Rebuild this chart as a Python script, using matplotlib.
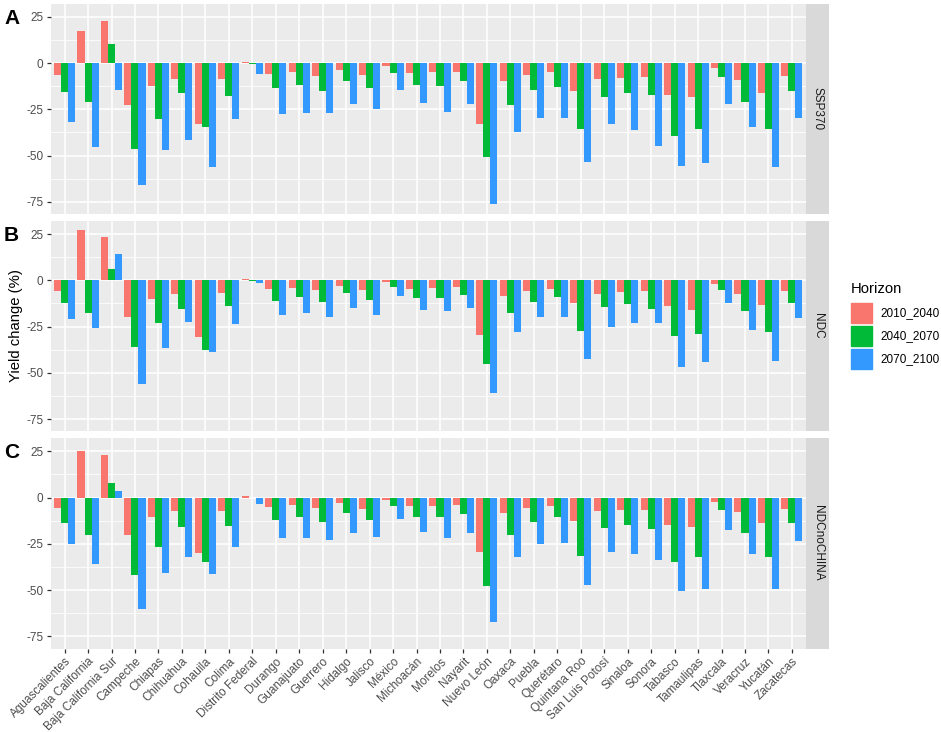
import numpy as np
import matplotlib
matplotlib.use('Agg')
import matplotlib.pyplot as plt
from matplotlib.patches import Rectangle

plt.rcParams['font.family'] = ['Liberation Sans', 'DejaVu Sans']

states = ['Aguascalientes', 'Baja California', 'Baja California Sur', 'Campeche',
          'Chiapas', 'Chihuahua', 'Cohauila', 'Colima', 'Distrito Federal',
          'Durango', 'Guanajuato', 'Guerrero', 'Hidalgo', 'Jalisco', 'México',
          'Michoacán', 'Morelos', 'Nayarit', 'Nuevo León', 'Oaxaca', 'Puebla',
          'Querétaro', 'Quintana Roo', 'San Luis Potosí', 'Sinaloa', 'Sonora',
          'Tabasco', 'Tamaulipas', 'Tlaxcala', 'Veracruz', 'Yucatán', 'Zacatecas']
horizons = ['2010_2040', '2040_2070', '2070_2100']
scenarios = ['SSP370', 'NDC', 'NDCnoCHINA']
letters = ['A', 'B', 'C']

# SSP370
ssp_2010 = [-6.5, 17.3, 22.6, -22.9, -12.5, -8.8, -32.9, -8.5, 0.7, -6.1, -4.7, -7.0, -3.6, -6.7, -1.8, -5.4,
            -5.1, -4.7, -32.9, -9.9, -6.7, -4.9, -15.0, -8.7, -7.9, -7.4, -17.0, -18.1, -2.9, -9.4, -16.1, -7.0]
ssp_2040 = [-15.7, -21.1, 10.3, -46.4, -30.3, -16.2, -34.7, -17.9, -0.4, -13.7, -11.9, -15.0, -9.6, -13.7, -5.2, -11.9,
            -12.3, -9.9, -50.9, -22.7, -14.8, -12.8, -35.4, -18.6, -16.2, -17.5, -39.2, -35.4, -7.6, -21.1, -35.9, -15.2]
ssp_2070 = [-31.8, -45.5, -14.3, -65.7, -46.8, -41.5, -56.0, -30.5, -5.8, -27.4, -26.9, -26.9, -22.4, -25.1, -14.3, -21.5,
            -26.5, -22.2, -76.4, -37.4, -29.8, -29.8, -53.6, -33.2, -36.1, -44.8, -55.6, -54.2, -22.0, -34.3, -56.0, -29.8]
# NDC
ndc_2010 = [-5.6, 27.0, 23.4, -19.7, -10.0, -7.2, -30.8, -6.9, 0.5, -4.5, -4.0, -5.4, -3.1, -5.4, -1.1, -4.4,
            -4.3, -3.6, -29.3, -8.3, -5.6, -4.9, -12.5, -7.6, -6.5, -6.0, -13.9, -15.8, -1.8, -7.2, -13.2, -5.8]
ndc_2040 = [-12.1, -17.8, 6.0, -36.1, -22.8, -15.6, -37.7, -14.0, -0.1, -11.2, -8.9, -11.8, -6.7, -10.7, -3.8, -9.4,
            -9.4, -8.0, -45.3, -17.8, -11.6, -8.9, -27.5, -14.3, -13.0, -15.6, -30.3, -29.0, -5.3, -16.5, -28.1, -12.5]
ndc_2070 = [-21.0, -25.7, 14.5, -55.8, -36.6, -22.6, -38.8, -23.4, -1.4, -18.5, -17.4, -19.7, -14.9, -18.5, -8.3, -16.1,
            -16.7, -14.9, -60.9, -28.1, -19.9, -19.6, -42.4, -25.0, -23.2, -22.8, -46.7, -44.0, -12.0, -26.6, -43.7, -20.3]
# NDCnoCHINA
noch_2010 = [-5.4, 25.4, 23.0, -20.3, -10.3, -7.4, -30.1, -7.2, 0.7, -4.9, -4.2, -5.8, -3.1, -6.0, -1.3, -4.5,
             -4.3, -3.8, -29.2, -8.5, -5.8, -4.5, -12.9, -7.4, -6.7, -6.5, -14.7, -16.0, -2.2, -7.8, -13.8, -6.0]
noch_2040 = [-13.9, -20.5, 8.0, -41.7, -26.6, -15.8, -35.0, -15.6, -0.3, -12.0, -10.5, -13.2, -8.2, -12.0, -4.5, -10.7,
             -10.7, -8.7, -47.8, -20.5, -13.2, -10.7, -31.7, -16.3, -14.7, -16.8, -35.1, -32.2, -6.5, -19.0, -32.2, -13.9]
noch_2070 = [-25.0, -35.9, 3.3, -60.1, -40.6, -32.2, -41.3, -26.6, -3.6, -22.1, -21.7, -23.0, -19.0, -21.4, -11.4, -18.7,
             -21.9, -19.0, -67.2, -32.2, -25.0, -24.8, -47.3, -29.2, -30.3, -33.9, -50.4, -49.5, -17.4, -30.6, -49.5, -23.4]

data = [[ssp_2010, ssp_2040, ssp_2070],
        [ndc_2010, ndc_2040, ndc_2070],
        [noch_2010, noch_2040, noch_2070]]

colors = ['#F8766D', '#00BA38', '#3399FF']

W, H = 941, 732
fig = plt.figure(figsize=(W / 100, H / 100), dpi=100)


def px_axes(x0, y0, x1, y1):
    # pixel box (top-left origin) -> figure axes
    return fig.add_axes([x0 / W, 1 - y1 / H, (x1 - x0) / W, (y1 - y0) / H])


tops = [3.5, 220.8, 438.0]
ph = 210.5
left, right = 50.5, 806
x = np.arange(1, len(states) + 1)
bw = 0.3

for i, scen in enumerate(scenarios):
    ax = px_axes(left, tops[i], right, tops[i] + ph)
    ax.set_facecolor('#EBEBEB')
    ax.set_xlim(0.4, len(states) + 0.6)
    ax.set_ylim(-81.6, 32.2)
    ax.set_yticks([25, 0, -25, -50, -75])
    ax.set_yticklabels(['25', '0', '-25', '-50', '-75'])
    ax.set_yticks([12.5, -12.5, -37.5, -62.5], minor=True)
    ax.set_xticks(x)
    ax.grid(which='major', color='white', linewidth=1.1)
    ax.grid(which='minor', axis='y', color='white', linewidth=0.55)
    ax.set_axisbelow(True)
    for s in ax.spines.values():
        s.set_visible(False)
    ax.tick_params(which='major', length=3, width=0.9, color='#333333',
                   labelsize=8.5, labelcolor='#4D4D4D', pad=2)
    ax.tick_params(which='minor', length=0)

    for j in range(3):
        ax.bar(x + (j - 1) * bw, data[i][j], width=bw, color=colors[j],
               linewidth=0, zorder=2)

    if i < 2:
        ax.set_xticklabels([])
        ax.tick_params(axis='x', length=0)
    else:
        ax.set_xticklabels(states, rotation=45, ha='right', va='top',
                           rotation_mode='anchor')

    # facet strip on the right
    sax = px_axes(right, tops[i], 829, tops[i] + ph)
    sax.add_patch(Rectangle((0, 0), 1, 1, color='#D9D9D9', transform=sax.transAxes))
    sax.set_axis_off()
    sax.text(0.5, 0.5, scen, rotation=270, ha='center', va='center',
             fontsize=8.5, color='#1A1A1A', transform=sax.transAxes)

    # panel letter
    fig.text(4 / W, 1 - (tops[i] + 15) / H, letters[i], fontsize=15,
             fontweight='bold', ha='left', va='center')

fig.text(16 / W, 1 - 326 / H, 'Yield change (%)', rotation=90, fontsize=10.7,
         color='black', ha='center', va='center')

# legend
fig.text(851 / W, 1 - 289 / H, 'Horizon', fontsize=10.7, ha='left', va='center')
for j, hz in enumerate(horizons):
    y0 = 303 + j * 23
    fig.patches.append(Rectangle((851 / W, 1 - (y0 + 20) / H), 21 / W, 20 / H,
                                 color=colors[j], transform=fig.transFigure))
    fig.text(880 / W, 1 - (y0 + 10) / H, hz, fontsize=8.5, ha='left', va='center')

fig.savefig('out.png', dpi=100)
